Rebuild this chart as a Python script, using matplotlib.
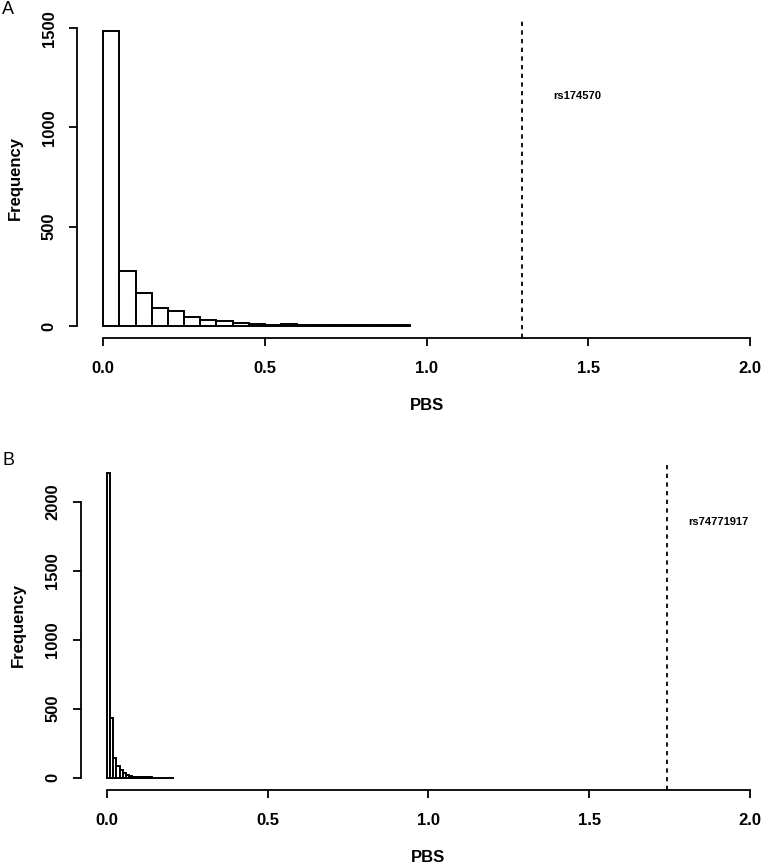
import matplotlib
matplotlib.use('Agg')
import matplotlib.pyplot as plt

plt.rcParams['font.family'] = ['Liberation Sans', 'DejaVu Sans']

# Panel A: PBS histogram (bin width 0.05)
a_left = [0.00, 0.05, 0.10, 0.15, 0.20, 0.25, 0.30, 0.35, 0.40, 0.45,
          0.50, 0.55, 0.60, 0.65, 0.70, 0.75, 0.80, 0.85, 0.90]
a_counts = [1487, 278, 165, 89, 75, 47, 30, 24, 13, 12,
            7, 12, 5, 4, 3, 6, 5, 3, 3]
a_width = 0.05
a_snp = 'rs174570'
a_snp_pbs = 1.294
a_text_xy = (1.467, 1158)

# Panel B: PBS histogram (bin width 0.01)
b_left = [0.00, 0.01, 0.02, 0.03, 0.04, 0.05, 0.06, 0.07, 0.08, 0.09, 0.10,
          0.11, 0.12, 0.13, 0.14, 0.15, 0.16, 0.17, 0.18, 0.19, 0.20]
b_counts = [2210, 430, 140, 85, 56, 36, 18, 10, 7, 5, 4,
            3, 2, 2, 1, 1, 1, 1, 0, 1, 1]
b_width = 0.01
b_snp = 'rs74771917'
b_snp_pbs = 1.742
b_text_xy = (1.90, 1855)

x_ticks = [0.0, 0.5, 1.0, 1.5, 2.0]
x_ticklabels = ['0.0', '0.5', '1.0', '1.5', '2.0']
a_yticks = [0, 500, 1000, 1500]
b_yticks = [0, 500, 1000, 1500, 2000]

W, H = 762, 868
fig = plt.figure(figsize=(W / 100, H / 100), dpi=100)


def px_axes(left, top, right, bottom):
    # pixel box (from top-left) -> figure fraction
    return [left / W, 1 - bottom / H, (right - left) / W, (bottom - top) / H]


def draw_panel(ax, left, counts, width, yticks, snp, snp_pbs, text_xy):
    ax.bar(left, counts, width=width, align='edge', color='white',
           edgecolor='black', linewidth=1.4)
    ymax = max(counts)
    # R style 4% padding around the data range
    ax.set_xlim(-0.08, 2.08)
    ax.set_ylim(-0.04 * ymax, 1.04 * ymax)
    ax.axvline(snp_pbs, color='black', linewidth=1.3, linestyle=(0, (2.4, 2.4)))
    ax.text(text_xy[0], text_xy[1], snp, ha='center', va='center',
            fontsize=8, fontweight='bold')

    for s in ['top', 'right']:
        ax.spines[s].set_visible(False)
    for s in ['left', 'bottom']:
        ax.spines[s].set_linewidth(1.3)
    ax.spines['bottom'].set_bounds(x_ticks[0], x_ticks[-1])
    ax.spines['left'].set_bounds(yticks[0], yticks[-1])

    ax.set_xticks(x_ticks)
    ax.set_xticklabels(x_ticklabels, fontsize=12, fontweight='bold')
    ax.set_yticks(yticks)
    ax.set_yticklabels([str(v) for v in yticks], fontsize=12,
                       fontweight='bold', rotation=90, va='center')
    ax.tick_params(direction='out', length=5.8, width=1.3)
    ax.tick_params(axis='x', pad=11)
    ax.tick_params(axis='y', pad=9)

    ax.set_xlabel('PBS', fontsize=12, fontweight='bold', labelpad=16)
    ax.set_ylabel('Frequency', fontsize=12, fontweight='bold', labelpad=14)
    ax.patch.set_visible(False)


ax_a = fig.add_axes(px_axes(77.4, 18.9, 775.7, 337.8))
draw_panel(ax_a, a_left, a_counts, a_width, a_yticks, a_snp, a_snp_pbs, a_text_xy)

ax_b = fig.add_axes(px_axes(81.0, 460.5, 775.9, 789.9))
draw_panel(ax_b, b_left, b_counts, b_width, b_yticks, b_snp, b_snp_pbs, b_text_xy)

fig.text(2 / W, 1 - 10 / H, 'A', fontsize=13, ha='left', va='center')
fig.text(3 / W, 1 - 460 / H, 'B', fontsize=13, ha='left', va='center')

fig.savefig('out.png', dpi=100)
